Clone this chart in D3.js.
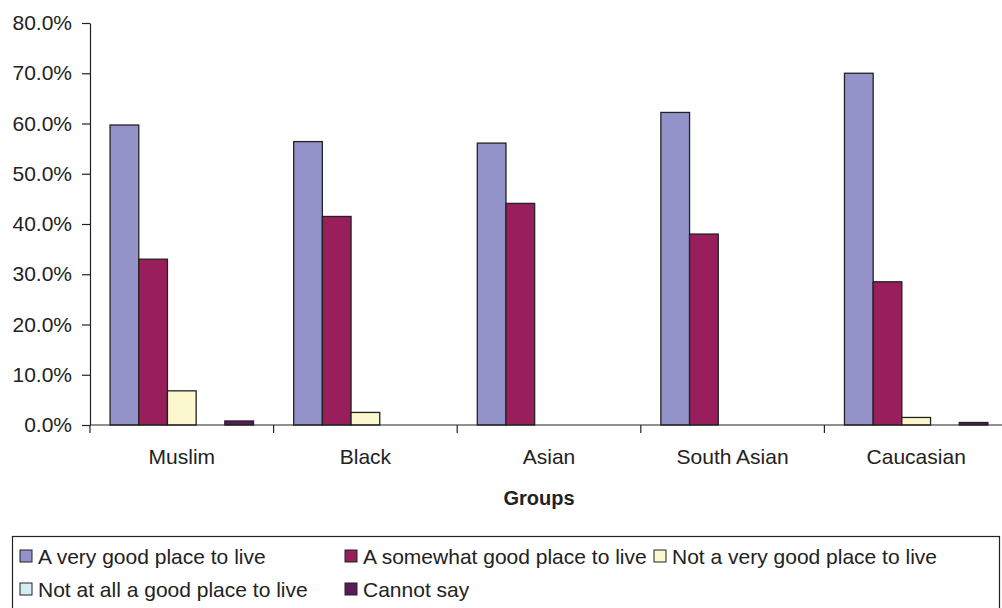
<!DOCTYPE html>
<html>
<head>
<meta charset="utf-8">
<script src="https://cdn.jsdelivr.net/npm/d3@7"></script>
<style>
  html, body { margin: 0; padding: 0; background: #fff; }
  svg { display: block; font-family: "Liberation Sans", Arial, sans-serif; }
</style>
</head>
<body>
<svg id="chart" width="1002" height="608"></svg>
<script>
// Survey responses by group (percent)
const groups = ["Muslim", "Black", "Asian", "South Asian", "Caucasian"];
const seriesNames = [
  "A very good place to live",
  "A somewhat good place to live",
  "Not a very good place to live",
  "Not at all a good place to live",
  "Cannot say"
];
const veryGood     = [59.7, 56.4, 56.1, 62.2, 70.0];
const somewhatGood = [33.0, 41.5, 44.1, 38.0, 28.5];
const notVeryGood  = [6.8, 2.5, 0, 0, 1.5];
const notAtAllGood = [0, 0, 0, 0, 0];
const cannotSay    = [0.8, 0, 0, 0, 0.5];
const yTicks = [0, 10, 20, 30, 40, 50, 60, 70, 80];
const colors = ["#9393c9", "#981e5c", "#fbf8cf", "#d4eef3", "#5a1a5c"];

const seriesValues = [veryGood, somewhatGood, notVeryGood, notAtAllGood, cannotSay];

const FONT = 21;
const svg = d3.select("#chart");
const margin = { left: 90, top: 23 };
const plotW = 918, plotH = 402;

const x0 = d3.scaleBand().domain(groups).range([0, plotW]).paddingInner(0).paddingOuter(0);
const x1 = d3.scaleBand().domain(d3.range(seriesNames.length))
  .range([0, x0.bandwidth()]).paddingOuter(0.7).paddingInner(0);
const y = d3.scaleLinear().domain([0, 80]).range([plotH, 0]);

const g = svg.append("g").attr("transform", `translate(${margin.left},${margin.top})`);

// Bars
const groupG = g.selectAll("g.grp").data(groups).join("g")
  .attr("class", "grp")
  .attr("transform", d => `translate(${x0(d)},0)`);

groupG.selectAll("rect").data((d, gi) => seriesValues.map((vals, si) => ({ si, v: vals[gi] })))
  .join("rect")
  .filter(d => d.v > 0)
  .attr("x", d => x1(d.si))
  .attr("y", d => y(d.v))
  .attr("width", x1.bandwidth())
  .attr("height", d => plotH - y(d.v))
  .attr("fill", d => colors[d.si])
  .attr("stroke", "#222")
  .attr("stroke-width", 1.3);

// Y axis
const yAxis = g.append("g")
  .call(d3.axisLeft(y).tickValues(yTicks).tickSize(8).tickSizeOuter(0)
    .tickFormat(d => d.toFixed(1) + "%"));
yAxis.select(".domain").attr("stroke", "#222").attr("stroke-width", 1.2);
yAxis.selectAll(".tick line").attr("stroke", "#222").attr("stroke-width", 1.2);
yAxis.selectAll(".tick text").attr("font-size", FONT).attr("fill", "#222").attr("x", -18);

// X axis
const xAxis = g.append("g").attr("transform", `translate(0,${plotH})`);
xAxis.append("line").attr("x1", 0).attr("x2", plotW).attr("y1", 0).attr("y2", 0)
  .attr("stroke", "#222").attr("stroke-width", 1.2);
xAxis.selectAll("line.tk").data(groups.map(d => x0(d)).concat([plotW])).join("line")
  .attr("class", "tk")
  .attr("x1", d => d).attr("x2", d => d).attr("y1", 0).attr("y2", 8)
  .attr("stroke", "#222").attr("stroke-width", 1.2);
xAxis.selectAll("text.cat").data(groups).join("text")
  .attr("class", "cat")
  .attr("x", d => x0(d) + x0.bandwidth() / 2)
  .attr("y", 39)
  .attr("text-anchor", "middle")
  .attr("font-size", FONT).attr("fill", "#222")
  .text(d => d);

// Axis title
svg.append("text")
  .attr("x", margin.left + plotW / 2 - 10).attr("y", 505)
  .attr("text-anchor", "middle")
  .attr("font-size", FONT - 1).attr("font-weight", "bold").attr("fill", "#222")
  .text("Groups");

// Legend
const legend = svg.append("g");
legend.append("rect")
  .attr("x", 12.5).attr("y", 536.5).attr("width", 987).attr("height", 80)
  .attr("fill", "none").attr("stroke", "#222").attr("stroke-width", 1.2);

const legendPos = [
  { x: 20, y: 556 }, { x: 345, y: 556 }, { x: 654, y: 556 },
  { x: 20, y: 589 }, { x: 345, y: 589 }
];
const items = legend.selectAll("g.item").data(seriesNames).join("g")
  .attr("class", "item")
  .attr("transform", (d, i) => `translate(${legendPos[i].x},${legendPos[i].y})`);
items.append("rect")
  .attr("x", 0).attr("y", -6).attr("width", 12).attr("height", 12)
  .attr("fill", (d, i) => colors[i]).attr("stroke", "#222").attr("stroke-width", 1);
items.append("text")
  .attr("x", 18).attr("y", 7.5)
  .attr("font-size", FONT).attr("fill", "#222")
  .text(d => d);
</script>
</body>
</html>
